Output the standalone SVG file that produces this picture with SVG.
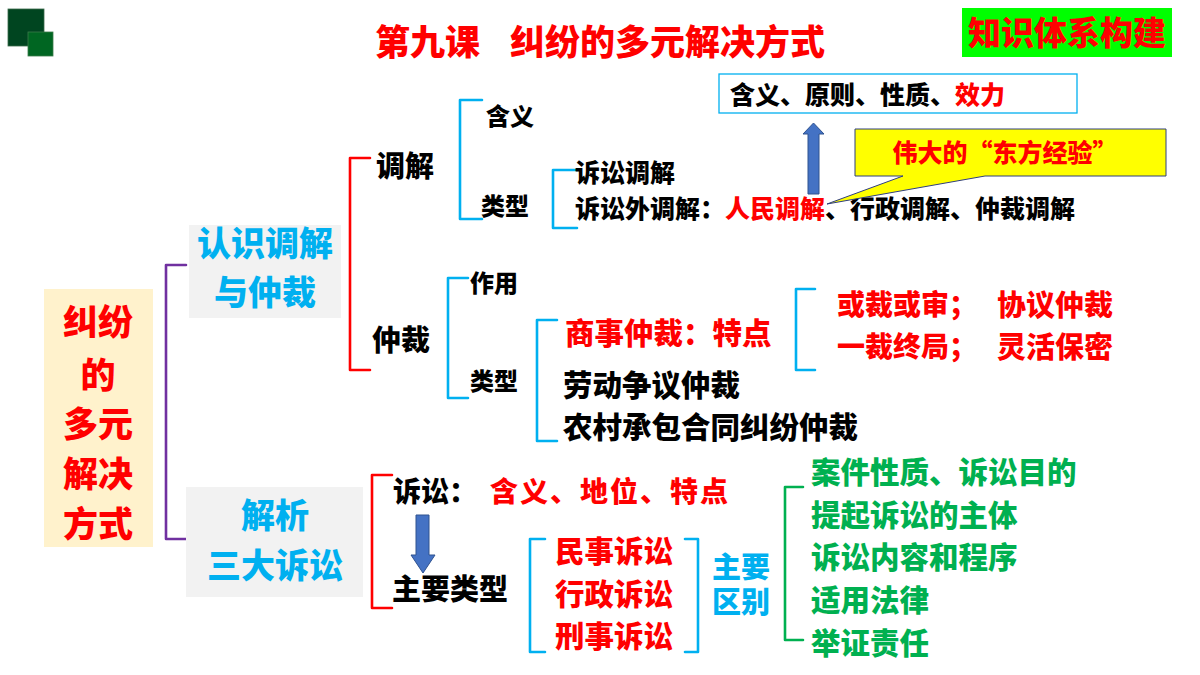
<svg xmlns="http://www.w3.org/2000/svg" width="1200" height="675" viewBox="0 0 1200 675">
<style>
text{font-family:"Noto Sans CJK SC","Liberation Sans",sans-serif;font-weight:900;dominant-baseline:central;transform:translateY(-2px)}
.k{fill:#000}.r{fill:#FF0000}.b{fill:#00B0F0}.g{fill:#00B050}
.br{fill:none;stroke-width:2.6;stroke-linejoin:round;stroke-linecap:round}
.red{stroke:#FF0000}.blu{stroke:#00B0F0}.pur{stroke:#7030A0}.grn{stroke:#00B050}
.arr{fill:#4472C4;stroke:#2F528F;stroke-width:1}
</style>
<rect width="1200" height="675" fill="#fff"/>
<g id="logo">
<rect x="8" y="9" width="36" height="37" fill="#004520" stroke="#3a6a4a" stroke-width="0.8"/>
<rect x="28" y="32" width="25" height="24" fill="#006622" stroke="#3a7a4a" stroke-width="0.8"/>
</g>
<g id="title">
<text x="375" y="41" class="r" font-size="35">第九课</text>
<text x="510" y="41" class="r" font-size="35">纠纷的多元解决方式</text>
</g>
<g id="badge">
<rect x="962" y="8" width="210" height="49" fill="#00FF00"/>
<text x="1067" y="33" class="r" font-size="33" text-anchor="middle">知识体系构建</text>
</g>
<g id="connectors">
<path class="br pur" d="M186,265 H166 V539 H186"/>
<path class="br red" d="M370,158 H350 V370 H370"/>
<path class="br blu" d="M482,100 H460 V219 H482"/>
<path class="br blu" d="M577,170 H553 V228 H577"/>
<path class="br blu" d="M468,278 H448 V398 H468"/>
<path class="br blu" d="M557,320 H537 V441 H557"/>
<path class="br blu" d="M815,289 H796 V370 H815"/>
<path class="br red" d="M392,475 H372 V608 H392"/>
<path class="br blu" d="M545,539 H530 V652 H545"/>
<path class="br blu" d="M685,539 H698 V652 H685"/>
<path class="br grn" d="M803,487 H785 V640 H803"/>
<path class="arr" d="M808,194 V134 H803 L813.5,123 L824,134 H819 V194 Z"/>
<path class="arr" d="M416,515 H429 V555 H435 L423,573 L411,555 H416 Z"/>
</g>
<g id="root">
<rect x="44" y="289" width="109" height="258" fill="#FFF2CC"/>
<text x="98" y="321" class="r" font-size="35" text-anchor="middle">纠纷</text>
<text x="98" y="374" class="r" font-size="35" text-anchor="middle">的</text>
<text x="98" y="423" class="r" font-size="35" text-anchor="middle">多元</text>
<text x="98" y="473" class="r" font-size="35" text-anchor="middle">解决</text>
<text x="98" y="523" class="r" font-size="35" text-anchor="middle">方式</text>
</g>
<g id="node-mediation-arbitration">
<rect x="189" y="225" width="152" height="93" fill="#F2F2F2"/>
<text x="265" y="243" class="b" font-size="34" text-anchor="middle">认识调解</text>
<text x="265" y="292" class="b" font-size="34" text-anchor="middle">与仲裁</text>
</g>
<g id="node-litigation">
<rect x="186" y="487" width="177" height="110" fill="#F2F2F2"/>
<text x="275" y="515" class="b" font-size="34" text-anchor="middle">解析</text>
<text x="275" y="565" class="b" font-size="34" text-anchor="middle">三大诉讼</text>
</g>
<g id="node-mediation">
<text x="376" y="166" class="k" font-size="29">调解</text>
</g>
<g id="node-med-meaning"><text x="486" y="116" class="k" font-size="24">含义</text></g>
<g id="node-med-types"><text x="481" y="206" class="k" font-size="24">类型</text></g>
<g id="node-med-list">
<text x="575" y="173" class="k" font-size="25">诉讼调解</text>
<text x="575" y="209" class="k" font-size="25">诉讼外调解：<tspan class="r">人民调解</tspan>、行政调解、仲裁调解</text>
</g>
<g id="node-principles">
<rect x="719" y="74" width="358" height="39" fill="#fff" stroke="#00B0F0" stroke-width="1.3"/>
<text x="730" y="95" class="k" font-size="25">含义、原则、性质、<tspan class="r">效力</tspan></text>
</g>
<g id="node-callout">
<path d="M855,129 H1166 V176 H985 L827,204 L903,176 H855 Z" fill="#FFFF00" stroke="#2F3E7F" stroke-width="1"/>
<text x="1005" y="153" class="r" font-size="25" text-anchor="middle">伟大的“东方经验”</text>
</g>
<g id="node-arbitration"><text x="372" y="340" class="k" font-size="29">仲裁</text></g>
<g id="node-arb-role"><text x="470" y="283" class="k" font-size="24">作用</text></g>
<g id="node-arb-types"><text x="470" y="381" class="k" font-size="24">类型</text></g>
<g id="node-arb-list">
<text x="565" y="333" class="r" font-size="29.5">商事仲裁：特点</text>
<text x="563" y="385" class="k" font-size="29.5">劳动争议仲裁</text>
<text x="563" y="427" class="k" font-size="29.5">农村承包合同纠纷仲裁</text>
</g>
<g id="node-arb-features">
<text x="837" y="305" class="r" font-size="28">或裁或审；</text>
<text x="997" y="305" class="r" font-size="29">协议仲裁</text>
<text x="837" y="347" class="r" font-size="28">一裁终局；</text>
<text x="997" y="347" class="r" font-size="29">灵活保密</text>
</g>
<g id="node-lit">
<text x="393" y="492" class="k" font-size="28">诉讼：</text>
<text x="490" y="492" class="r" font-size="28" textLength="238" lengthAdjust="spacing">含义、地位、特点</text>
</g>
<g id="node-lit-types"><text x="392" y="589" class="k" font-size="29">主要类型</text></g>
<g id="node-lit-list">
<text x="614" y="551" class="r" font-size="29.5" text-anchor="middle">民事诉讼</text>
<text x="614" y="594" class="r" font-size="29.5" text-anchor="middle">行政诉讼</text>
<text x="614" y="636" class="r" font-size="29.5" text-anchor="middle">刑事诉讼</text>
</g>
<g id="node-diff">
<text x="712" y="567" class="b" font-size="29">主要</text>
<text x="712" y="602" class="b" font-size="29">区别</text>
</g>
<g id="node-diff-list">
<text x="811" y="472" class="g" font-size="29.5">案件性质、诉讼目的</text>
<text x="811" y="515" class="g" font-size="29.5">提起诉讼的主体</text>
<text x="811" y="557" class="g" font-size="29.5">诉讼内容和程序</text>
<text x="811" y="600" class="g" font-size="29.5">适用法律</text>
<text x="811" y="643" class="g" font-size="29.5">举证责任</text>
</g>
</svg>
